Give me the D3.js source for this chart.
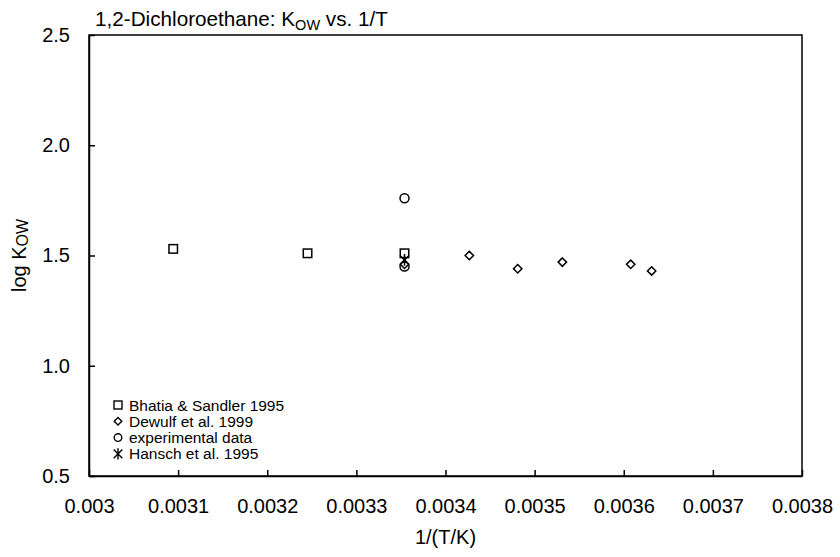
<!DOCTYPE html>
<html><head><meta charset="utf-8">
<script src="https://cdn.jsdelivr.net/npm/d3@7"></script>
<style>body{margin:0;background:#fff}text{font-family:"Liberation Sans",Arial,sans-serif;fill:#000}</style>
</head><body><svg id="c" width="840" height="557"></svg>
<script>
const xTicks = [0.003,0.0031,0.0032,0.0033,0.0034,0.0035,0.0036,0.0037,0.0038];
const xTickLabels = ["0.003","0.0031","0.0032","0.0033","0.0034","0.0035","0.0036","0.0037","0.0038"];
const yTicks = [0.5,1.0,1.5,2.0,2.5];
const yTickLabels = ["0.5","1.0","1.5","2.0","2.5"];

const bhatiaX = [0.0030945, 0.0032452, 0.0033540];
const bhatiaY = [1.53, 1.51, 1.51];
const dewulfX = [0.0033540, 0.0034267, 0.0034810, 0.0035311, 0.0036078, 0.0036313];
const dewulfY = [1.46, 1.50, 1.44, 1.47, 1.46, 1.43];
const expX = [0.0033540, 0.0033540];
const expY = [1.76, 1.45];
const hanschX = [0.0033540];
const hanschY = [1.48];

const seriesNames = ["Bhatia & Sandler 1995","Dewulf et al. 1999","experimental data","Hansch et al. 1995"];

const svg = d3.select("#c");
const L=89,R=802,T=35,B=476;
const x = d3.scaleLinear().domain([0.003,0.0038]).range([L,R]);
const y = d3.scaleLinear().domain([0.5,2.5]).range([B,T]);

svg.append("rect").attr("x",L).attr("y",T).attr("width",R-L).attr("height",B-T)
  .attr("fill","none").attr("stroke","#000").attr("stroke-width",1.5);

const xa = svg.append("g").attr("transform",`translate(0,${B})`)
  .call(d3.axisBottom(x).tickValues(xTicks).tickFormat((d,i)=>xTickLabels[i]).tickSizeInner(-6).tickSizeOuter(0).tickPadding(23));
const ya = svg.append("g").attr("transform",`translate(${L},0)`)
  .call(d3.axisLeft(y).tickValues(yTicks).tickFormat((d,i)=>yTickLabels[i]).tickSizeInner(-6).tickSizeOuter(0).tickPadding(19));
[xa,ya].forEach(a=>{
  a.select(".domain").attr("stroke","#000").attr("stroke-width",1.5);
  a.selectAll(".tick line").attr("stroke","#000").attr("stroke-width",1.5);
  a.selectAll(".tick text").attr("font-size",20).attr("font-family","Liberation Sans, Arial, sans-serif").attr("fill","#000");
});

// title
const t = svg.append("text").attr("x",95).attr("y",26).attr("font-size",20.7);
t.append("tspan").text("1,2-Dichloroethane: K");
t.append("tspan").attr("font-size",14.5).attr("dy",4).text("OW");
t.append("tspan").attr("dy",-4).text(" vs. 1/T");

// axis titles
svg.append("text").attr("x",(L+R)/2).attr("y",544).attr("text-anchor","middle").attr("font-size",20).text("1/(T/K)");
const yl = svg.append("text").attr("transform",`translate(26,${(T+B)/2}) rotate(-90)`).attr("text-anchor","middle").attr("font-size",20);
yl.append("tspan").text("log K");
yl.append("tspan").attr("font-size",16).attr("dy",2).text("OW");

// markers
const g = svg.append("g").attr("fill","none").attr("stroke","#000").attr("stroke-width",1.5);
function square(sel,cx,cy,s){sel.append("rect").attr("x",cx-s/2).attr("y",cy-s/2).attr("width",s).attr("height",s);}
function diamond(sel,cx,cy,s){sel.append("path").attr("d",`M${cx},${cy-s}L${cx+s},${cy}L${cx},${cy+s}L${cx-s},${cy}Z`);}
function circle(sel,cx,cy,r){sel.append("circle").attr("cx",cx).attr("cy",cy).attr("r",r);}
function star(sel,cx,cy,s){
  sel.append("path").attr("d",`M${cx-s},${cy-s}L${cx+s},${cy+s}M${cx+s},${cy-s}L${cx-s},${cy+s}M${cx},${cy-s*1.3}L${cx},${cy+s*1.3}`);
}
bhatiaX.forEach((v,i)=>square(g,x(v),y(bhatiaY[i]),8.5));
dewulfX.forEach((v,i)=>diamond(g,x(v),y(dewulfY[i]),4.2));
expX.forEach((v,i)=>circle(g,x(v),y(expY[i]),4.5));
hanschX.forEach((v,i)=>star(g,x(v),y(hanschY[i]),4.5));

// legend
const lg = svg.append("g");
const lx=118, ly0=405, dy=16.3;
seriesNames.forEach((n,i)=>{
  const cy=ly0+i*dy;
  const m = lg.append("g").attr("fill","none").attr("stroke","#000").attr("stroke-width",1.4);
  if(i===0) square(m,lx,cy,8);
  if(i===1) diamond(m,lx,cy,3.8);
  if(i===2) circle(m,lx,cy,3.8);
  if(i===3) star(m,lx,cy,4.3);
  lg.append("text").attr("x",129).attr("y",cy+5.5).attr("font-size",15.5).text(n);
});
</script></body></html>
